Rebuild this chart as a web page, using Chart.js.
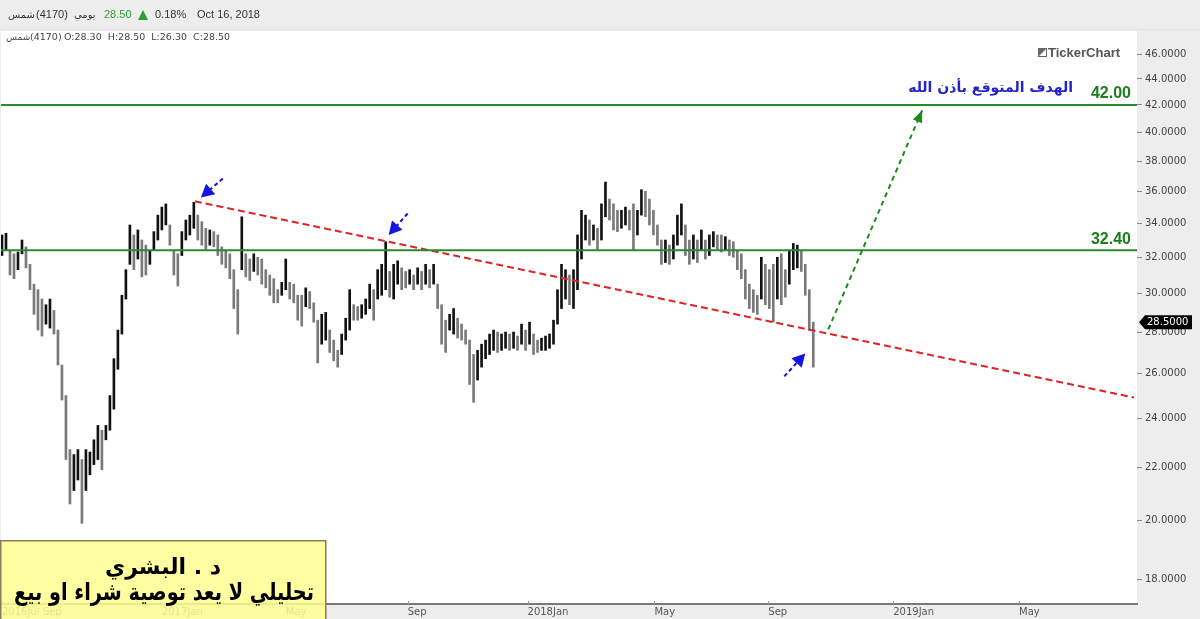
<!DOCTYPE html>
<html>
<head>
    <title>4170 TickerChart</title>
    <script src="https://cdn.jsdelivr.net/npm/chart.js"></script>
    <style>
        html, body { margin: 0; padding: 0; background: #ececec; }
        #wrap { width: 1200px; height: 619px; position: relative; }
    </style>
</head>
<body>
<div id="wrap">
    <canvas id="myChart" width="1200" height="619"></canvas>
</div>
<script>
    // price bars, one every few sessions
    const highs = [
        33.3, 33.4, 32.4, 32.2, 32.3, 33.0, 32.6, 31.6, 30.5, 30.2,
        29.7, 29.4, 29.7, 29.1, 28.1, 26.4, 25.0, 22.7, 22.5, 22.7,
        22.3, 22.7, 22.6, 23.1, 23.7, 23.5, 23.7, 25.0, 26.7, 28.1,
        29.9, 31.3, 33.9, 33.3, 33.6, 33.0, 32.7, 32.4, 33.5, 34.5,
        35.0, 35.2, 33.9, 32.4, 32.2, 33.5, 34.2, 34.5, 35.3, 34.5,
        34.1, 33.7, 33.6, 33.5, 33.3, 32.6, 32.4, 32.2, 31.3, 30.2,
        34.4, 32.2, 31.9, 32.2, 32.0, 31.9, 31.3, 31.0, 30.8, 30.2,
        30.6, 31.9, 30.6, 30.5, 29.9, 29.9, 30.3, 30.1, 29.5, 28.6,
        28.9, 29.0, 28.1, 27.6, 27.1, 27.9, 28.7, 30.2, 29.4, 29.3,
        29.4, 29.7, 30.5, 30.2, 31.3, 31.6, 32.9, 31.2, 31.6, 31.8,
        31.4, 31.2, 31.3, 31.0, 31.4, 31.2, 31.6, 31.3, 31.6, 30.5,
        29.4, 28.6, 28.9, 29.2, 28.7, 28.4, 28.1, 27.6, 26.9, 27.1,
        27.4, 27.6, 27.9, 28.1, 28.0, 27.9, 28.0, 27.9, 28.0, 27.8,
        28.4, 28.1, 28.5, 27.9, 27.6, 27.7, 27.8, 27.9, 28.6, 30.2,
        31.6, 31.3, 31.0, 31.3, 33.3, 34.8, 34.5, 34.2, 33.9, 33.7,
        35.2, 36.6, 35.5, 35.2, 34.8, 34.8, 35.0, 34.8, 35.2, 34.8,
        36.1, 36.0, 35.5, 34.8, 33.9, 33.0, 33.0, 32.7, 33.3, 34.5,
        35.2, 33.9, 33.0, 33.3, 33.0, 33.6, 33.0, 33.3, 33.5, 33.3,
        33.3, 33.2, 33.0, 32.9, 32.4, 32.2, 31.3, 30.5, 30.2, 29.9,
        32.0, 31.6, 31.3, 31.6, 32.0, 32.2, 31.3, 32.4, 32.8, 32.7,
        32.4, 31.6, 30.2, 28.5
    ];
    const lows = [
        32.1, 32.4, 31.0, 30.8, 31.3, 32.2, 31.4, 30.2, 28.9, 28.1,
        27.8, 28.4, 28.2, 27.9, 26.4, 24.8, 22.3, 20.6, 21.1, 21.5,
        19.9, 21.1, 21.7, 22.1, 22.3, 21.9, 23.1, 23.5, 24.4, 26.2,
        27.9, 29.7, 31.6, 31.3, 31.9, 30.9, 31.0, 31.6, 32.4, 33.0,
        33.6, 33.9, 32.7, 31.0, 30.4, 32.1, 33.0, 33.3, 33.7, 33.0,
        32.7, 32.4, 32.7, 32.6, 32.1, 31.6, 31.4, 30.8, 29.2, 27.9,
        31.3, 30.9, 30.7, 31.2, 31.0, 30.5, 30.3, 29.9, 29.5, 29.5,
        29.9, 30.2, 29.7, 29.5, 28.6, 28.3, 29.3, 29.2, 28.5, 26.5,
        27.4, 27.6, 27.0, 26.6, 26.3, 26.9, 27.6, 28.1, 28.6, 28.6,
        28.7, 28.9, 29.2, 28.6, 29.7, 29.9, 30.2, 29.8, 29.7, 30.5,
        30.2, 30.3, 30.5, 30.2, 30.5, 30.2, 30.5, 30.3, 30.5, 29.2,
        27.4, 27.0, 28.1, 27.9, 27.7, 27.6, 27.4, 25.5, 24.7, 25.7,
        26.3, 26.7, 26.9, 27.1, 27.0, 27.1, 27.2, 27.1, 27.2, 27.1,
        27.4, 27.1, 27.4, 26.9, 27.0, 27.1, 27.1, 27.2, 27.4, 28.4,
        29.2, 29.7, 29.4, 29.2, 30.2, 31.9, 33.0, 32.7, 33.0, 32.4,
        33.0, 34.4, 34.2, 33.6, 33.5, 33.7, 33.9, 33.6, 32.4, 33.3,
        34.5, 34.4, 33.9, 33.3, 32.7, 31.6, 31.7, 31.6, 31.9, 32.7,
        33.3, 32.1, 31.6, 31.9, 31.7, 32.4, 31.9, 32.1, 32.6, 32.4,
        32.3, 32.4, 32.1, 32.0, 31.3, 30.8, 29.7, 29.2, 29.0, 28.9,
        29.7, 29.4, 29.2, 28.5, 29.7, 29.4, 29.8, 30.5, 31.3, 31.4,
        31.2, 29.9, 28.1, 26.3
    ];

    // axes
    const xTickPos = [0, 10.25, 40, 71, 101.5, 131.5, 163.25, 191.75, 223, 254.5];
    const xTickLabels = ['2016Jul', 'Sep', '2017Jan', 'May', 'Sep', '2018Jan', 'May', 'Sep', '2019Jan', 'May'];
    const yTicks = [18, 20, 22, 24, 26, 28, 30, 32, 34, 36, 38, 40, 42, 44, 46];
    const lastPrice = 28.5;

    // drawn levels and trend line (bar index, price)
    const levels = [42.0, 32.4];
    const trendFrom = [48.25, 35.36];
    const trendTo = [283.25, 24.91];
    const targetArrow = [[206.75, 28.13], [230.25, 41.6]];
    const blueArrows = [
        [[55.25, 36.83], [49.75, 35.6]],
        [[101.5, 34.6], [96.75, 33.3]],
        [[195.75, 25.87], [201, 26.95]]
    ];

    const X_MIN = -0.25, X_MAX = 284;

    const barData = highs.map((h, i) => ({ x: i, y: [lows[i], h] }));
    const barColors = highs.map((h, i) => {
        if (i === 0) return '#111';
        return (h + lows[i]) >= (highs[i - 1] + lows[i - 1]) ? '#111' : '#7a7a7a';
    });

    Chart.defaults.font.family = "'DejaVu Sans', sans-serif";

    function arrowHead(ctx, x1, y1, x2, y2, len, wid) {
        const a = Math.atan2(y2 - y1, x2 - x1);
        ctx.beginPath();
        ctx.moveTo(x2, y2);
        ctx.lineTo(x2 - len * Math.cos(a) + wid * Math.sin(a), y2 - len * Math.sin(a) - wid * Math.cos(a));
        ctx.lineTo(x2 - len * Math.cos(a) - wid * Math.sin(a), y2 - len * Math.sin(a) + wid * Math.cos(a));
        ctx.closePath();
        ctx.fill();
    }

    const decor = {
        id: 'decor',
        beforeDraw(chart) {
            const ctx = chart.ctx, a = chart.chartArea;
            ctx.save();
            ctx.fillStyle = '#ededed';
            ctx.fillRect(0, 0, chart.width, chart.height);
            ctx.fillStyle = '#fff';
            ctx.fillRect(a.left, a.top, a.right - a.left, a.bottom - a.top);
            ctx.fillStyle = '#e4e4e4';
            ctx.fillRect(0, 29, chart.width, 1);
            ctx.restore();
        },
        afterDatasetsDraw(chart) {
            const ctx = chart.ctx, xs = chart.scales.x, ys = chart.scales.y;
            const px = p => [xs.getPixelForValue(p[0]), ys.getPixelForValue(p[1])];
            ctx.save();
            // green target arrow
            const [g1, g2] = targetArrow.map(px);
            ctx.strokeStyle = '#1f8a1f';
            ctx.fillStyle = '#1f8a1f';
            ctx.lineWidth = 2;
            ctx.setLineDash([5, 4]);
            ctx.beginPath();
            ctx.moveTo(g1[0], g1[1]);
            ctx.lineTo(g2[0], g2[1]);
            ctx.stroke();
            ctx.setLineDash([]);
            arrowHead(ctx, g1[0], g1[1], g2[0], g2[1], 12, 5);
            // blue arrows
            ctx.strokeStyle = '#1414e6';
            ctx.fillStyle = '#1414e6';
            blueArrows.forEach(ar => {
                const [t, h] = ar.map(px);
                const ang = Math.atan2(h[1] - t[1], h[0] - t[0]);
                const ex = h[0] - 11 * Math.cos(ang), ey = h[1] - 11 * Math.sin(ang);
                ctx.setLineDash([4, 3]);
                ctx.lineWidth = 2;
                ctx.beginPath();
                ctx.moveTo(t[0], t[1]);
                ctx.lineTo(ex, ey);
                ctx.stroke();
                ctx.setLineDash([]);
                arrowHead(ctx, t[0], t[1], h[0], h[1], 13, 7);
            });
            ctx.restore();
        },
        afterDraw(chart) {
            const ctx = chart.ctx, a = chart.chartArea, xs = chart.scales.x, ys = chart.scales.y;
            ctx.save();
            // x tick marks above axis line
            ctx.strokeStyle = '#999';
            ctx.lineWidth = 1;
            xTickPos.forEach(v => {
                const x = Math.round(xs.getPixelForValue(v)) + 0.5;
                ctx.beginPath();
                ctx.moveTo(x, a.bottom - 3);
                ctx.lineTo(x, a.bottom);
                ctx.stroke();
            });

            // header
            ctx.textBaseline = 'middle';
            ctx.fillStyle = '#333';
            ctx.font = "10px 'DejaVu Sans'";
            ctx.fillText('شمس', 8, 15);
            ctx.font = "11px 'Liberation Sans'";
            ctx.fillText('(4170)', 36, 15);
            ctx.font = "10px 'DejaVu Sans'";
            ctx.fillText('يومي', 74, 15);
            ctx.font = "11px 'Liberation Sans'";
            ctx.fillStyle = '#2fa12f';
            ctx.fillText('28.50', 104, 15);
            ctx.beginPath();
            ctx.moveTo(138, 20); ctx.lineTo(148, 20); ctx.lineTo(143, 10); ctx.closePath();
            ctx.fill();
            ctx.fillStyle = '#333';
            ctx.fillText('0.18%', 155, 15);
            ctx.fillText('Oct 16, 2018', 197, 15);

            ctx.fillStyle = '#444';
            ctx.font = "9px 'DejaVu Sans'";
            ctx.fillText('شمس', 6, 38);
            ctx.font = "9.5px 'DejaVu Sans'";
            ctx.fillText('(4170)', 30, 38);
            ctx.fillText('O:28.30  H:28.50  L:26.30  C:28.50', 64, 38);

            // TickerChart logo
            ctx.fillStyle = '#666';
            ctx.fillRect(1038, 48, 9, 9);
            ctx.fillStyle = '#fff';
            ctx.beginPath();
            ctx.moveTo(1039, 56); ctx.lineTo(1046, 49); ctx.lineTo(1046, 56); ctx.closePath();
            ctx.fill();
            ctx.fillStyle = '#555';
            ctx.font = "bold 13px 'Liberation Sans'";
            ctx.fillText('TickerChart', 1048, 53);

            // level labels
            ctx.fillStyle = '#1d7d1d';
            ctx.font = "bold 16px 'Liberation Sans'";
            ctx.textAlign = 'right';
            ctx.fillText('42.00', 1131, ys.getPixelForValue(levels[0]) - 11);
            ctx.fillText('32.40', 1131, ys.getPixelForValue(levels[1]) - 11);
            ctx.fillStyle = '#2424c8';
            ctx.font = "bold 14px 'DejaVu Sans'";
            ctx.fillText('الهدف المتوقع بأذن الله', 1073, 88);

            // last price tag
            const py = ys.getPixelForValue(lastPrice);
            ctx.fillStyle = '#000';
            ctx.beginPath();
            ctx.moveTo(a.right + 2, py);
            ctx.lineTo(a.right + 8, py - 7);
            ctx.lineTo(a.right + 55, py - 7);
            ctx.lineTo(a.right + 55, py + 7);
            ctx.lineTo(a.right + 8, py + 7);
            ctx.closePath();
            ctx.fill();
            ctx.fillStyle = '#fff';
            ctx.textAlign = 'left';
            ctx.font = "10px 'DejaVu Sans'";
            ctx.fillText(lastPrice.toFixed(4), a.right + 10, py + 0.5);

            // note box
            ctx.fillStyle = 'rgba(255, 255, 145, 0.85)';
            ctx.fillRect(0, 540, 326, 79);
            ctx.strokeStyle = '#8c7a5a';
            ctx.lineWidth = 1.5;
            ctx.strokeRect(0.75, 540.75, 325, 80);
            ctx.fillStyle = '#000';
            ctx.textAlign = 'center';
            ctx.textBaseline = 'alphabetic';
            ctx.font = "bold 22px 'DejaVu Sans'";
            ctx.fillText('د . البشري', 163, 574);
            ctx.font = "bold 24px 'DejaVu Sans'";
            ctx.fillText('تحليلي لا يعد توصية شراء او بيع', 164, 600, 300);
            ctx.restore();
        }
    };

    const lineDs = (pts, color, width, dash) => ({
        type: 'line',
        data: pts.map(p => ({ x: p[0], y: p[1] })),
        borderColor: color,
        borderWidth: width,
        borderDash: dash,
        pointRadius: 0,
        fill: false,
        order: 0
    });

    new Chart(document.getElementById('myChart'), {
        type: 'bar',
        data: {
            datasets: [
                lineDs([[X_MIN, levels[0]], [X_MAX, levels[0]]], '#2a8a2a', 2, []),
                lineDs([[X_MIN, levels[1]], [X_MAX, levels[1]]], '#2a8a2a', 2, []),
                lineDs([trendFrom, trendTo], '#e02424', 2, [7, 4]),
                {
                    type: 'bar',
                    data: barData,
                    backgroundColor: barColors,
                    barThickness: 2,
                    grouped: false,
                    order: 1
                }
            ]
        },
        options: {
            responsive: false,
            animation: false,
            events: [],
            layout: { padding: { top: 31, left: 0, right: 0, bottom: 0 } },
            plugins: { legend: { display: false }, tooltip: { enabled: false } },
            scales: {
                x: {
                    type: 'linear',
                    offset: false,
                    min: X_MIN,
                    max: X_MAX,
                    afterBuildTicks: s => { s.ticks = xTickPos.map(v => ({ value: v })); },
                    afterFit: s => { s.height = 15; },
                    grid: { display: false, drawTicks: false, tickLength: 0, offset: false },
                    border: { display: true, color: '#7a7a7a', width: 2 },
                    ticks: {
                        autoSkip: false,
                        maxRotation: 0,
                        align: 'start',
                        padding: 2,
                        color: '#555',
                        font: { size: 10 },
                        callback: (v, i) => xTickLabels[i]
                    }
                },
                y: {
                    type: 'logarithmic',
                    position: 'right',
                    min: 17.23,
                    max: 47.93,
                    afterBuildTicks: s => { s.ticks = yTicks.map(v => ({ value: v })); },
                    afterFit: s => { s.width = 63; },
                    grid: { drawOnChartArea: false, drawTicks: true, tickLength: 5, color: '#888' },
                    border: { display: false },
                    ticks: {
                        padding: 3,
                        color: '#444',
                        font: { size: 10 },
                        callback: v => Number(v).toFixed(4)
                    }
                }
            }
        },
        plugins: [decor]
    });
</script>
</body>
</html>
